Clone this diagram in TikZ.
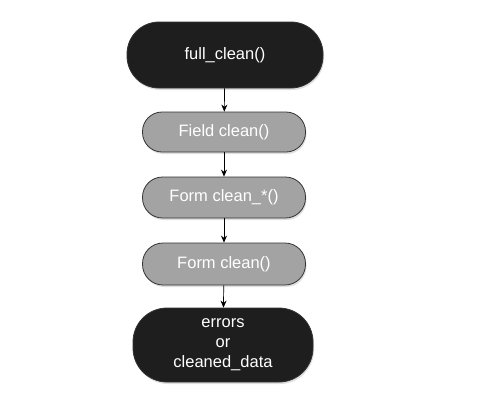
\documentclass[tikz,border=0pt]{standalone}
\usepackage{fontspec}
\setmainfont{Liberation Sans}
\usetikzlibrary{arrows.meta,shadows}
\definecolor{darkfill}{HTML}{1E1E1E}
\definecolor{grayfill}{HTML}{A3A3A3}
\begin{document}
\begin{tikzpicture}[x=1pt,y=-1pt,
  base/.style={draw=black!80, line width=0.8pt, text=white, align=center,
    font=\fontsize{16.5}{20}\selectfont, inner sep=0pt,
    drop shadow={shadow xshift=1pt, shadow yshift=-2pt, opacity=0.25}},
  darkbox/.style={base, fill=darkfill},
  graybox/.style={base, fill=grayfill},
  conn/.style={-{Stealth[length=7pt,width=6pt]}, line width=0.7pt}]
\useasboundingbox (0,0) rectangle (479,400);
\node[darkbox, minimum width=196pt, minimum height=66pt, rounded corners=32pt] (a) at (225,55) {full\_clean()};
\node[graybox, minimum width=163pt, minimum height=40pt, rounded corners=19.5pt] (b) at (224,132) {Field clean()};
\node[graybox, minimum width=163pt, minimum height=41pt, rounded corners=20pt] (c) at (224,197.5) {Form clean\_*()};
\node[graybox, minimum width=163pt, minimum height=42pt, rounded corners=20.5pt] (d) at (224,264) {Form clean()};
\node[darkbox, minimum width=180pt, minimum height=74pt, rounded corners=34pt] (e) at (223,345) {errors\\or\\cleaned\_data};
\draw[conn] (a) -- (b);
\draw[conn] (b) -- (c);
\draw[conn] (c) -- (d);
\draw[conn] (d) -- (e);
\end{tikzpicture}
\end{document}
